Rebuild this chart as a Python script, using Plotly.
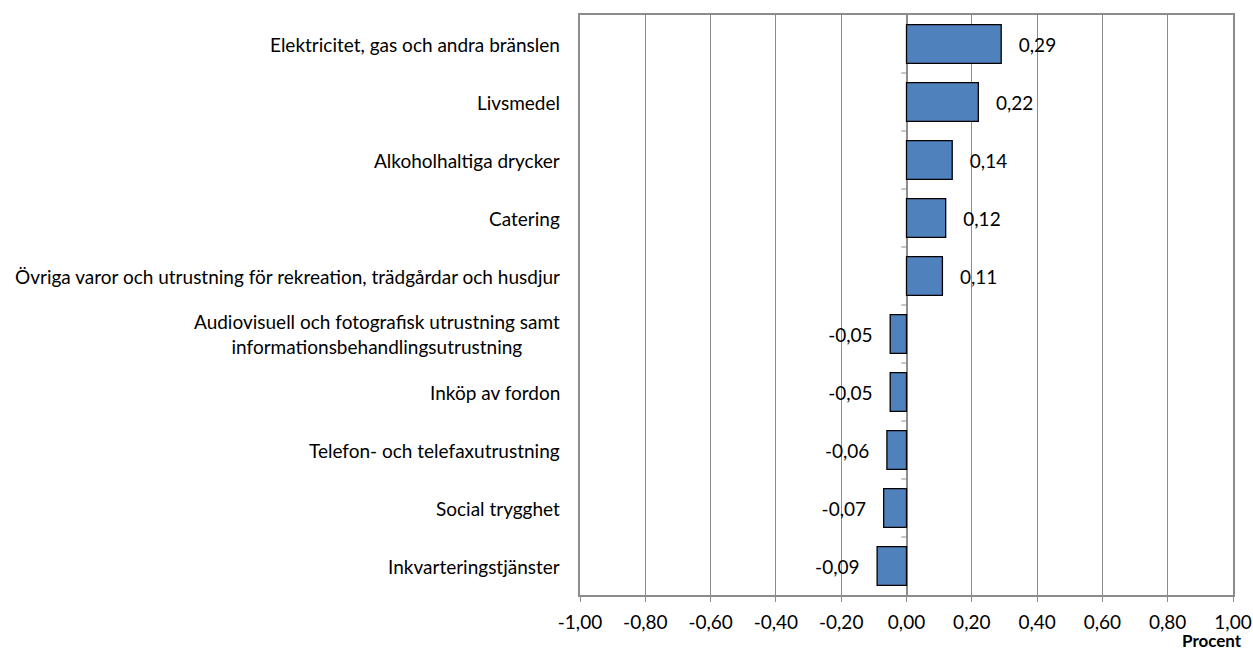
import plotly.graph_objects as go

categories = [
    "Elektricitet, gas och andra bränslen",
    "Livsmedel",
    "Alkoholhaltiga drycker",
    "Catering",
    "Övriga varor och utrustning för rekreation, trädgårdar och husdjur",
    "Audiovisuell och fotografisk utrustning samt<br>informationsbehandlingsutrustning",
    "Inköp av fordon",
    "Telefon- och telefaxutrustning",
    "Social trygghet",
    "Inkvarteringstjänster",
]
values = [0.29, 0.22, 0.14, 0.12, 0.11, -0.05, -0.05, -0.06, -0.07, -0.09]
value_labels = ["0,29", "0,22", "0,14", "0,12", "0,11", "-0,05", "-0,05", "-0,06", "-0,07", "-0,09"]
tick_vals = [-1.0, -0.8, -0.6, -0.4, -0.2, 0.0, 0.2, 0.4, 0.6, 0.8, 1.0]
tick_text = ["-1,00", "-0,80", "-0,60", "-0,40", "-0,20", "0,00", "0,20", "0,40", "0,60", "0,80", "1,00"]

FONT = "Lato"
FS = 19
GRID = "#8c8c8c"
ypos = list(range(len(categories)))

fig = go.Figure()
fig.add_trace(go.Bar(
    x=values, y=ypos, orientation="h",
    marker=dict(color="#4F81BD", line=dict(color="#000000", width=1.3)),
    width=0.67,
    text=["   " + t + "   " for t in value_labels],
    textposition="outside", cliponaxis=False,
    textfont=dict(family=FONT, size=FS, color="#000000"),
    hoverinfo="skip",
))

annotations = []
for i, c in enumerate(categories):
    annotations.append(dict(
        x=0, xref="paper", y=i, yref="y", text=c, showarrow=False,
        xanchor="right", yanchor="middle", align="center", xshift=-18,
        font=dict(family=FONT, size=FS, color="#000000"),
    ))
annotations.append(dict(
    x=1, xref="paper", y=0, yref="paper", text="<b>Procent</b>", showarrow=False,
    xanchor="right", yanchor="bottom", yshift=-58, xshift=11,
    font=dict(family=FONT, size=17, color="#000000"),
))

shapes = []
for i in range(len(categories) - 1):
    shapes.append(dict(type="line", xref="x", yref="y", x0=-0.016, x1=0,
                       y0=i + 0.5, y1=i + 0.5, line=dict(color=GRID, width=1)))

fig.update_layout(
    width=1253, height=653,
    margin=dict(l=580, r=20, t=15, b=58, autoexpand=False),
    plot_bgcolor="white", paper_bgcolor="white",
    showlegend=False,
    annotations=annotations, shapes=shapes,
    xaxis=dict(
        range=[-1, 1], tickvals=tick_vals, ticktext=tick_text,
        showgrid=True, gridcolor=GRID, gridwidth=1,
        showline=True, linecolor=GRID, linewidth=1.5, mirror=True,
        ticks="outside", ticklen=5, tickcolor=GRID,
        ticklabelstandoff=4, ticklabeloverflow="allow", automargin=False,
        zeroline=True, zerolinecolor=GRID, zerolinewidth=1.5,
        tickfont=dict(family=FONT, size=FS, color="#000000"),
        fixedrange=True,
    ),
    yaxis=dict(
        range=[len(categories) - 0.5, -0.5],
        showticklabels=False, showgrid=False, zeroline=False,
        showline=True, linecolor=GRID, linewidth=1.5, mirror=True,
        automargin=False, fixedrange=True,
    ),
)

fig.write_html(
    "out.html",
    config={"displayModeBar": False},
    post_script="document.body.style.margin='0';document.body.style.overflow='hidden';",
)
